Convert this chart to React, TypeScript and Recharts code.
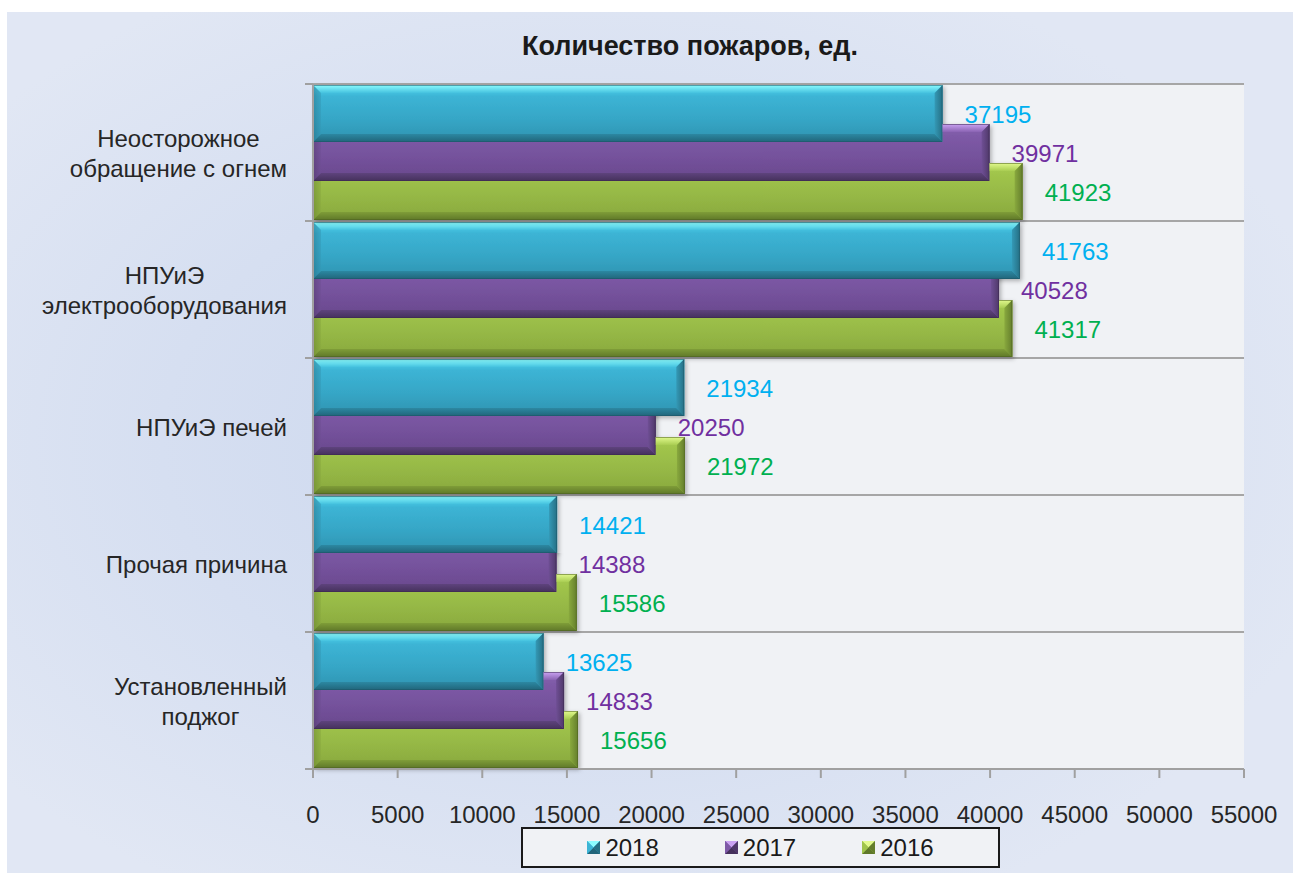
import React from 'react'
import { BarChart, Bar, XAxis, YAxis, CartesianGrid, LabelList } from 'recharts'

// Количество пожаров по причинам, ед.
const categories = [
  'Неосторожное\nобращение с огнем',
  'НПУиЭ\nэлектрооборудования',
  'НПУиЭ печей',
  'Прочая причина',
  'Установленный\nподжог',
]
const fires2018 = [37195, 41763, 21934, 14421, 13625]
const fires2017 = [39971, 40528, 20250, 14388, 14833]
const fires2016 = [41923, 41317, 21972, 15586, 15656]
const xTicks = [0, 5000, 10000, 15000, 20000, 25000, 30000, 35000, 40000, 45000, 50000, 55000]

const data = categories.map((name, i) => ({
  name,
  y2018: fires2018[i],
  y2017: fires2017[i],
  y2016: fires2016[i],
}))

const FONT = '"Liberation Sans", Arial, sans-serif'
const OVERLAP = 18
const BEVEL = 8

type Palette = {
  key: string
  name: string
  label: string
  top: [string, string]
  body: [string, string, string, string]
  bottom: [string, string]
  side: [string, string]
  edge: string
}

const palettes: Palette[] = [
  {
    key: 'y2018',
    name: '2018',
    label: '#00b0f0',
    top: ['#8cfcff', '#45c2df'],
    body: ['#52d8f0', '#3cb4d5', '#36a6c6', '#2f93b0'],
    bottom: ['#2c88a2', '#21657a'],
    side: ['#3499b6', '#256f84'],
    edge: '#1d5566',
  },
  {
    key: 'y2017',
    name: '2017',
    label: '#7030a0',
    top: ['#caa2f2', '#8a63b3'],
    body: ['#8a63b2', '#7e5aa7', '#74519b', '#68488c'],
    bottom: ['#5e437d', '#45315c'],
    side: ['#6f4f95', '#4f3869'],
    edge: '#3c2a50',
  },
  {
    key: 'y2016',
    name: '2016',
    label: '#00b050',
    top: ['#e2fa8e', '#a9cd52'],
    body: ['#a9cd52', '#a0c44b', '#95b745', '#88a83e'],
    bottom: ['#7f9d38', '#5f7829'],
    side: ['#89a93e', '#647e2c'],
    edge: '#4c6020',
  },
]

function Defs() {
  return (
    <svg width={0} height={0} style={{ position: 'absolute' }}>
      <defs>
        <filter id="barShadow" x="-5%" y="-20%" width="115%" height="160%">
          <feDropShadow dx={2} dy={2} stdDeviation={2} floodColor="#000" floodOpacity={0.28} />
        </filter>
        {palettes.map((p) => (
          <React.Fragment key={p.key}>
            <linearGradient id={`body-${p.key}`} x1="0" y1="0" x2="0" y2="1">
              <stop offset="0" stopColor={p.body[0]} />
              <stop offset="0.2" stopColor={p.body[1]} />
              <stop offset="0.6" stopColor={p.body[2]} />
              <stop offset="1" stopColor={p.body[3]} />
            </linearGradient>
            <linearGradient id={`top-${p.key}`} x1="0" y1="0" x2="0" y2="1">
              <stop offset="0" stopColor={p.top[0]} />
              <stop offset="1" stopColor={p.top[1]} />
            </linearGradient>
            <linearGradient id={`bottom-${p.key}`} x1="0" y1="0" x2="0" y2="1">
              <stop offset="0" stopColor={p.bottom[0]} />
              <stop offset="1" stopColor={p.bottom[1]} />
            </linearGradient>
            <linearGradient id={`right-${p.key}`} x1="0" y1="0" x2="1" y2="0">
              <stop offset="0" stopColor={p.side[0]} />
              <stop offset="1" stopColor={p.side[1]} />
            </linearGradient>
            <linearGradient id={`left-${p.key}`} x1="0" y1="0" x2="1" y2="0">
              <stop offset="0" stopColor={p.side[1]} />
              <stop offset="1" stopColor={p.side[0]} />
            </linearGradient>
          </React.Fragment>
        ))}
      </defs>
    </svg>
  )
}

const pts = (arr: number[][]) => arr.map((p) => p.join(',')).join(' ')

// bevelled bar; the part hidden behind the bar above it is clipped away
function makeShape(p: Palette, prevKey: string | null) {
  return (props: any) => {
    const { x, y, width, height, payload, index } = props
    if (!width || width <= 0) return <g />
    const end = x + width
    const h = height
    const b = Math.min(BEVEL, width / 2)
    const id = `clip-${p.key}-${index}`
    let clip: React.ReactNode = null
    if (prevKey) {
      const prevEnd = x + (width * payload[prevKey]) / payload[p.key]
      const L = x - 4
      const R = end + 12
      const T = y - 4
      const Bt = y + h + 12
      const poly =
        prevEnd < end
          ? [[L, y + OVERLAP], [prevEnd, y + OVERLAP], [prevEnd, T], [R, T], [R, Bt], [L, Bt]]
          : [[L, y + OVERLAP], [R, y + OVERLAP], [R, Bt], [L, Bt]]
      clip = (
        <defs>
          <clipPath id={id}>
            <polygon points={pts(poly)} />
          </clipPath>
        </defs>
      )
    }
    return (
      <g>
        {clip}
        <g clipPath={clip ? `url(#${id})` : undefined}>
          <g filter="url(#barShadow)">
            <rect x={x} y={y} width={width} height={h} fill={`url(#body-${p.key})`} />
          </g>
          <polygon
            points={pts([[x, y], [end, y], [end - b, y + b], [x + b, y + b]])}
            fill={`url(#top-${p.key})`}
          />
          <polygon
            points={pts([[x, y + h], [end, y + h], [end - b, y + h - b], [x + b, y + h - b]])}
            fill={`url(#bottom-${p.key})`}
          />
          <polygon
            points={pts([[x, y], [x + b, y + b], [x + b, y + h - b], [x, y + h]])}
            fill={`url(#left-${p.key})`}
            opacity={0.5}
          />
          <polygon
            points={pts([[end, y], [end, y + h], [end - b, y + h - b], [end - b, y + b]])}
            fill={`url(#right-${p.key})`}
          />
          <rect
            x={x + 0.5}
            y={y + 0.5}
            width={width - 1}
            height={h - 1}
            fill="none"
            stroke={p.edge}
            strokeOpacity={0.55}
          />
        </g>
      </g>
    )
  }
}

function makeLabel(p: Palette) {
  return (props: any) => {
    const { x, y, width, height, value } = props
    return (
      <text
        x={x + width + 22}
        y={y + height / 2 + 1}
        fill={p.label}
        fontSize={24}
        fontFamily={FONT}
        dominantBaseline="central"
      >
        {value}
      </text>
    )
  }
}

let measureCtx: CanvasRenderingContext2D | null = null
function textWidth(s: string) {
  if (!measureCtx) {
    measureCtx = document.createElement('canvas').getContext('2d')
  }
  if (!measureCtx) return s.length * 12
  measureCtx.font = `24px ${FONT}`
  return measureCtx.measureText(s).width
}

function CategoryTick(props: any) {
  const { x, y, payload, index } = props
  const lines = String(payload.value).split('\n')
  const half = payload.offset || 68.5
  const maxW = Math.max(...lines.map(textWidth))
  const cx = x - maxW / 2
  const axisX = x + 26
  return (
    <g>
      <line x1={axisX - 8} x2={axisX} y1={y - half} y2={y - half} stroke="#a0a0a0" strokeWidth={2} />
      {index === categories.length - 1 && (
        <line x1={axisX - 8} x2={axisX} y1={y + half} y2={y + half} stroke="#a0a0a0" strokeWidth={2} />
      )}
      {lines.map((line, i) => (
        <text
          key={i}
          x={cx}
          y={y + (i - (lines.length - 1) / 2) * 30 + 1}
          textAnchor="middle"
          dominantBaseline="central"
          fill="#262626"
          fontSize={24}
          fontFamily={FONT}
        >
          {line}
        </text>
      ))}
    </g>
  )
}

function bandLines({ yAxis, offset }: any) {
  const s = yAxis?.scale
  const n = categories.length
  if (typeof s === 'function' && typeof s.bandwidth === 'function') {
    const out = categories.map((c) => s(c))
    out.push(s(categories[n - 1]) + s.bandwidth())
    if (out.every((v) => Number.isFinite(v))) return out
  }
  return Array.from({ length: n + 1 }, (_, i) => offset.top + (i * offset.height) / n)
}

function LegendIcon({ p }: { p: Palette }) {
  return (
    <svg width={13} height={13} style={{ display: 'block' }}>
      <rect x={0} y={0} width={13} height={13} fill={p.body[2]} />
      <polygon points="0,0 13,0 6.5,6.5" fill={p.top[0]} />
      <polygon points="13,0 13,13 6.5,6.5" fill={p.side[1]} />
      <polygon points="0,13 13,13 6.5,6.5" fill={p.bottom[1]} />
      <polygon points="0,0 0,13 6.5,6.5" fill={p.body[1]} />
    </svg>
  )
}

export default function App() {
  return (
    <div
      style={{
        position: 'absolute',
        left: 7,
        top: 12,
        width: 1286,
        height: 861,
        fontFamily: FONT,
        background:
          'radial-gradient(ellipse 60% 60% at 45% 50%, #cbd7ee 0%, #d6dff1 55%, #e1e7f4 100%)',
      }}
    >
      <Defs />
      <div
        style={{
          position: 'absolute',
          left: 0,
          top: 19,
          width: 1366,
          textAlign: 'center',
          fontSize: 27,
          fontWeight: 'bold',
          color: '#1a1a1a',
        }}
      >
        Количество пожаров, ед.
      </div>
      <BarChart
        width={1286}
        height={861}
        data={data}
        layout="vertical"
        barSize={57}
        barGap={-OVERLAP}
        margin={{ top: 72, right: 49, bottom: 44, left: 0 }}
      >
        <CartesianGrid
          vertical={false}
          fill="#f0f2f5"
          stroke="#a6a6a6"
          strokeWidth={2}
          horizontalCoordinatesGenerator={bandLines}
        />
        <XAxis
          type="number"
          domain={[0, 55000]}
          ticks={xTicks}
          interval={0}
          height={60}
          axisLine={{ stroke: '#a0a0a0', strokeWidth: 2 }}
          tickLine={{ stroke: '#a0a0a0', strokeWidth: 2 }}
          tickSize={9}
          tickMargin={28}
          tick={{ fill: '#262626', fontSize: 24, fontFamily: FONT }}
        />
        <YAxis
          type="category"
          dataKey="name"
          width={306}
          axisLine={{ stroke: '#a0a0a0', strokeWidth: 2 }}
          tickLine={false}
          tickSize={8}
          tickMargin={18}
          interval={0}
          tick={<CategoryTick />}
        />
        {palettes.map((p, i) => (
          <Bar
            key={p.key}
            dataKey={p.key}
            name={p.name}
            fill={p.body[1]}
            isAnimationActive={false}
            shape={makeShape(p, i > 0 ? palettes[i - 1].key : null)}
          >
            <LabelList dataKey={p.key} content={makeLabel(p)} />
          </Bar>
        ))}
      </BarChart>
      <div
        style={{
          position: 'absolute',
          left: 514,
          top: 815,
          width: 475,
          height: 37,
          border: '2px solid #1a1a1a',
          background: '#f0f2f5',
          display: 'flex',
          alignItems: 'center',
          justifyContent: 'center',
          gap: 66,
          fontSize: 24,
          color: '#1a1a1a',
        }}
      >
        {palettes.map((p) => (
          <div key={p.key} style={{ display: 'flex', alignItems: 'center', gap: 5 }}>
            <LegendIcon p={p} />
            <span>{p.name}</span>
          </div>
        ))}
      </div>
    </div>
  )
}
